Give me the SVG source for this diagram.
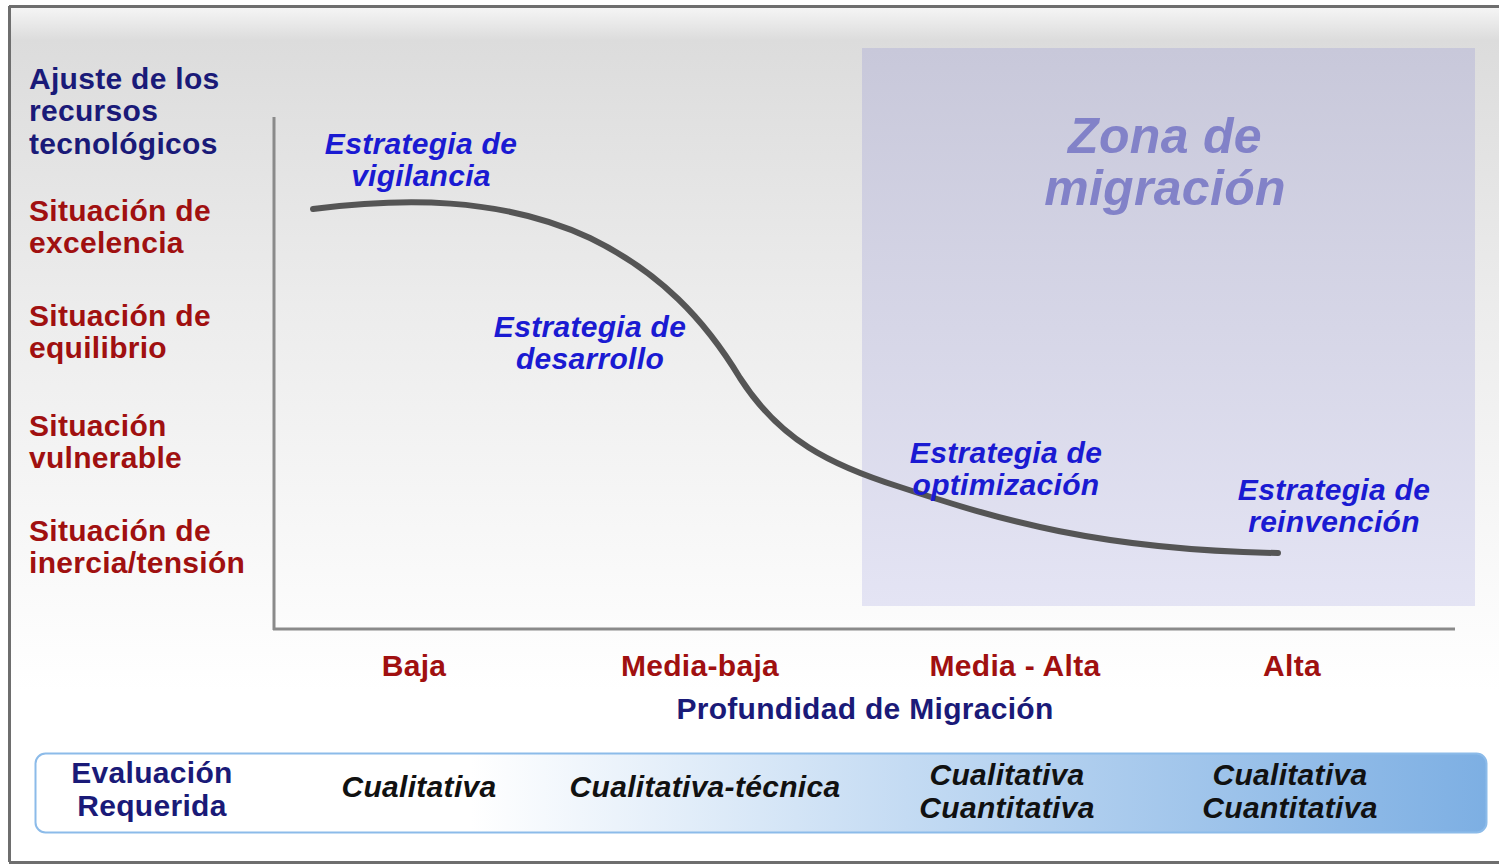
<svg xmlns="http://www.w3.org/2000/svg" width="1499" height="864" viewBox="0 0 1499 864">
<defs>
<linearGradient id="bg" x1="0" y1="0" x2="0" y2="1">
<stop offset="0" stop-color="#f6f6f6"/>
<stop offset="0.04" stop-color="#dcdcdc"/>
<stop offset="0.35" stop-color="#ececec"/>
<stop offset="0.8" stop-color="#ffffff"/>
<stop offset="1" stop-color="#ffffff"/>
</linearGradient>
<linearGradient id="zone" x1="0" y1="0" x2="0" y2="1">
<stop offset="0" stop-color="#c8c8da"/>
<stop offset="1" stop-color="#e4e4f4"/>
</linearGradient>
<linearGradient id="bar" x1="0" y1="0" x2="1" y2="0">
<stop offset="0" stop-color="#ffffff"/>
<stop offset="0.3" stop-color="#ffffff"/>
<stop offset="0.6" stop-color="#c4dbf3"/>
<stop offset="1" stop-color="#7dafe3"/>
</linearGradient>
<style>
text{font-family:"Liberation Sans",Arial,sans-serif;font-weight:bold;font-size:30px;letter-spacing:0.3px}
.navy{fill:#1a1a78}
.red{fill:#a01010}
.strat{fill:#1a1ad2;font-style:italic;text-anchor:middle}
.eval{fill:#111;font-style:italic;text-anchor:middle}
.mid{text-anchor:middle}
.axis{stroke:#8a8a8a;stroke-width:3;fill:none}
</style>
</defs>
<g id="frame">
<rect x="9" y="6" width="1492" height="856" fill="url(#bg)"/>
<line x1="9" y1="6.5" x2="1499" y2="6.5" stroke="#6e6e6e" stroke-width="3"/>
<line x1="9.5" y1="6" x2="9.5" y2="862" stroke="#6e6e6e" stroke-width="3"/>
<line x1="9" y1="862.5" x2="1499" y2="862.5" stroke="#6e6e6e" stroke-width="3"/>
</g>
<g id="zona-migracion">
<rect x="862" y="48" width="613" height="558" fill="url(#zone)"/>
<text x="1165" y="153" class="mid" style="font-size:50px;font-style:italic;fill:#8282c8">Zona de</text>
<text x="1165" y="205" class="mid" style="font-size:50px;font-style:italic;fill:#8282c8">migración</text>
</g>
<g id="connectors">
<line x1="274" y1="117" x2="274" y2="630" class="axis"/>
<line x1="273" y1="629" x2="1455" y2="629" class="axis"/>
<path d="M313,209 C400,198 500,196 590,238 C660,272 705,320 740,378 C780,440 830,465 900,487 C1000,520 1100,550 1278,553" fill="none" stroke="#555555" stroke-width="6" stroke-linecap="round"/>
</g>
<g id="y-labels">
<text x="29" y="89" class="navy">Ajuste de los</text>
<text x="29" y="121" class="navy">recursos</text>
<text x="29" y="154" class="navy">tecnológicos</text>
<text x="29" y="221" class="red">Situación de</text>
<text x="29" y="253" class="red">excelencia</text>
<text x="29" y="326" class="red">Situación de</text>
<text x="29" y="358" class="red">equilibrio</text>
<text x="29" y="436" class="red">Situación</text>
<text x="29" y="468" class="red">vulnerable</text>
<text x="29" y="541" class="red">Situación de</text>
<text x="29" y="573" class="red">inercia/tensión</text>
</g>
<g id="estrategia-vigilancia">
<text x="421" y="154" class="strat">Estrategia de</text>
<text x="421" y="186" class="strat">vigilancia</text>
</g>
<g id="estrategia-desarrollo">
<text x="590" y="337" class="strat">Estrategia de</text>
<text x="590" y="369" class="strat">desarrollo</text>
</g>
<g id="estrategia-optimizacion">
<text x="1006" y="463" class="strat">Estrategia de</text>
<text x="1006" y="495" class="strat">optimización</text>
</g>
<g id="estrategia-reinvencion">
<text x="1334" y="500" class="strat">Estrategia de</text>
<text x="1334" y="532" class="strat">reinvención</text>
</g>
<g id="x-labels">
<text x="414" y="676" class="red mid">Baja</text>
<text x="700" y="676" class="red mid">Media-baja</text>
<text x="1015" y="676" class="red mid">Media - Alta</text>
<text x="1292" y="676" class="red mid">Alta</text>
<text x="865" y="719" class="navy mid">Profundidad de Migración</text>
</g>
<g id="evaluacion">
<rect x="35.5" y="753.5" width="1451" height="79" rx="10" fill="url(#bar)" stroke="#8cbbe9" stroke-width="2"/>
<text x="152" y="783" class="navy mid">Evaluación</text>
<text x="152" y="816" class="navy mid">Requerida</text>
<text x="419" y="797" class="eval">Cualitativa</text>
<text x="705" y="797" class="eval">Cualitativa-técnica</text>
<text x="1007" y="785" class="eval">Cualitativa</text>
<text x="1007" y="818" class="eval">Cuantitativa</text>
<text x="1290" y="785" class="eval">Cualitativa</text>
<text x="1290" y="818" class="eval">Cuantitativa</text>
</g>
</svg>
